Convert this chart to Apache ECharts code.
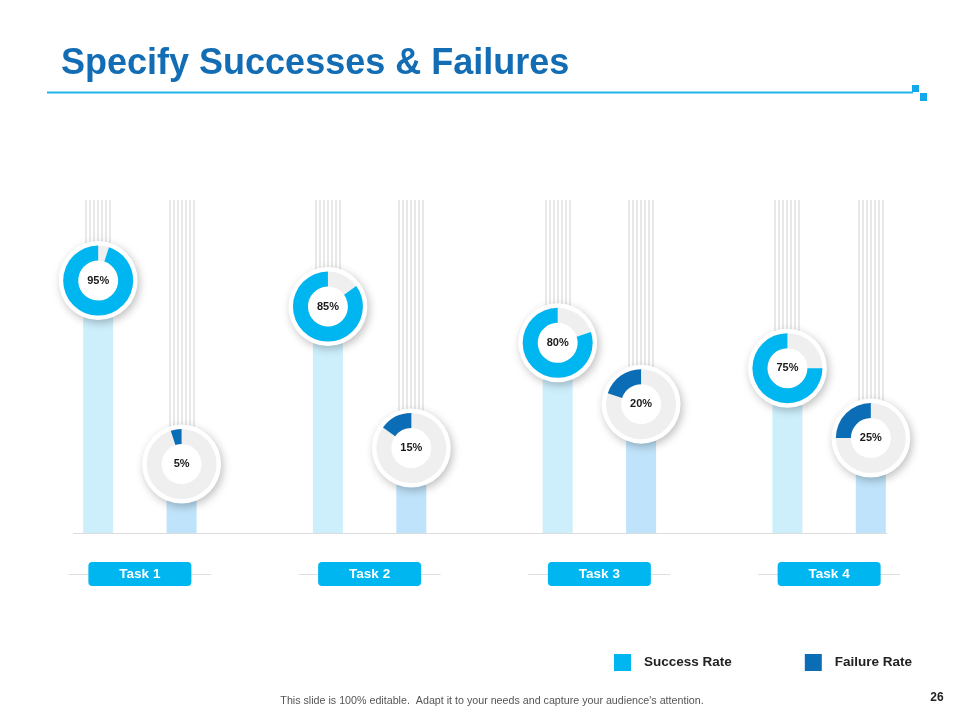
<!DOCTYPE html>
<html>
<head>
<meta charset="utf-8">
<script src="https://cdn.jsdelivr.net/npm/echarts@6/dist/echarts.min.js"></script>
<style>html,body{margin:0;padding:0;background:#fff;}#c{width:960px;height:720px;}</style>
</head>
<body>
<div id="c"></div>
<script>
// ---- data ----
var tasks = ['Task 1', 'Task 2', 'Task 3', 'Task 4'];
var successRate = [95, 85, 80, 75];
var failureRate = [5, 15, 20, 25];
// visual height of each column (where the donut sits), on a 0-100 scale
var successLevel = [75.8, 68.0, 57.1, 49.5];
var failureLevel = [20.7, 25.5, 38.7, 28.5];
var seriesNames = ['Success Rate', 'Failure Rate'];

var FONT = '"Liberation Sans", Arial, sans-serif';
var C_SUCCESS = '#00b6f1', C_FAIL = '#0b6db5';
var C_SBAR = '#cdeffc', C_FBAR = '#bfe3fa';
var BAR_W = 30, GAP = 1.78;
var OFF = (BAR_W + BAR_W * GAP) / 2;

var chart = echarts.init(document.getElementById('c'), null, {renderer: 'canvas'});

var stripeData = [], donutData = [];
tasks.forEach(function (t, i) {
  stripeData.push([i, -1]); stripeData.push([i, 1]);
  donutData.push([i, successLevel[i], successRate[i], -1]);
  donutData.push([i, failureLevel[i], failureRate[i], 1]);
});

function renderStripes(params, api) {
  var cat = api.value(0), sign = api.value(1);
  var b = api.coord([cat, 0]), t = api.coord([cat, 100]);
  var cx = b[0] + sign * OFF;
  var children = [];
  for (var k = -3; k <= 3; k++) {
    var x = Math.round(cx + k * 4);
    children.push({type: 'line', shape: {x1: x, y1: t[1], x2: x, y2: b[1]},
      style: {stroke: '#e8e8e8', lineWidth: 2}});
  }
  return {type: 'group', children: children};
}

function renderDonut(params, api) {
  var cat = api.value(0), lvl = api.value(1), pct = api.value(2), sign = api.value(3);
  var p = api.coord([cat, lvl]);
  var cx = p[0] + sign * OFF, cy = p[1];
  var col = sign < 0 ? C_SUCCESS : C_FAIL;
  var start = -Math.PI / 2, end = start - pct / 100 * Math.PI * 2;
  return {type: 'group', children: [
    {type: 'circle', shape: {cx: cx, cy: cy, r: 39.5},
      style: {fill: '#fff', shadowBlur: 9, shadowColor: 'rgba(0,0,0,0.25)', shadowOffsetX: 2, shadowOffsetY: 3}},
    {type: 'sector', shape: {cx: cx, cy: cy, r: 35, r0: 20, startAngle: 0, endAngle: Math.PI * 2},
      style: {fill: '#efefef'}},
    {type: 'sector', shape: {cx: cx, cy: cy, r: 35, r0: 20, startAngle: start, endAngle: end, clockwise: false},
      style: {fill: col}},
    {type: 'text', style: {x: cx, y: cy, text: pct + '%', align: 'center', verticalAlign: 'middle',
      fill: '#1a1a1a', font: 'bold 11px ' + FONT}}
  ]};
}

var option = {
  animation: false,
  backgroundColor: '#fff',
  title: {
    text: 'Specify Successes & Failures', left: 56, top: 41,
    textStyle: {fontFamily: FONT, fontSize: 36, fontWeight: 'bold', color: '#136db4'}
  },
  legend: {
    left: 609, top: 649, itemWidth: 17, itemHeight: 17, itemGap: 73, icon: 'rect',
    textStyle: {fontFamily: FONT, fontSize: 13.5, fontWeight: 'bold', color: '#222', padding: [2, 0, 0, 8]},
    data: [
      {name: seriesNames[0], itemStyle: {color: C_SUCCESS}},
      {name: seriesNames[1], itemStyle: {color: C_FAIL}}
    ]
  },
  grid: {left: 25, right: 16, top: 200, bottom: 187},
  xAxis: {
    type: 'category', data: tasks,
    axisLine: {show: false}, axisTick: {show: false}, splitLine: {show: false},
    axisLabel: {
      margin: 29, color: '#fff', fontFamily: FONT, fontSize: 13.5, fontWeight: 'bold',
      backgroundColor: C_SUCCESS, borderRadius: 4, width: 103, align: 'center',
      padding: [5, 0, 5, 0], lineHeight: 14
    }
  },
  yAxis: {type: 'value', min: 0, max: 100, show: false},
  series: [
    {type: 'custom', name: 'stripes', renderItem: renderStripes, data: stripeData, z: 1, silent: true,
      encode: {x: 0, y: 1}},
    {type: 'bar', name: seriesNames[0], data: successLevel, barWidth: BAR_W, barGap: (GAP * 100) + '%',
      itemStyle: {color: C_SBAR}, z: 2},
    {type: 'bar', name: seriesNames[1], data: failureLevel, barWidth: BAR_W,
      itemStyle: {color: C_FBAR}, z: 2},
    {type: 'custom', name: 'donuts', renderItem: renderDonut, data: donutData, z: 3, silent: true,
      encode: {x: 0, y: 1}}
  ]
};
chart.setOption(option);

// decorations
var g = [];
g.push({type: 'line', shape: {x1: 47, y1: 92.5, x2: 913, y2: 92.5}, style: {stroke: '#1fb3e8', lineWidth: 2}});
g.push({type: 'rect', shape: {x: 912, y: 85, width: 7, height: 7}, style: {fill: '#12a9ea'}});
g.push({type: 'rect', shape: {x: 920, y: 93, width: 7, height: 8}, style: {fill: '#12a9ea'}});
var base = chart.convertToPixel({yAxisIndex: 0}, 0);
g.push({type: 'line', shape: {x1: 73, y1: base + 0.5, x2: 887, y2: base + 0.5}, style: {stroke: '#dcdcdc', lineWidth: 1}, z: 0});
tasks.forEach(function (t, i) {
  var x = chart.convertToPixel({xAxisIndex: 0}, t);
  var y = base + 41.5;
  g.push({type: 'line', shape: {x1: x - 71, y1: y, x2: x - 51, y2: y}, style: {stroke: '#dedede', lineWidth: 1}});
  g.push({type: 'line', shape: {x1: x + 51, y1: y, x2: x + 71, y2: y}, style: {stroke: '#dedede', lineWidth: 1}});
});
g.push({type: 'text', style: {x: 492, y: 701, text: "This slide is 100% editable.  Adapt it to your needs and capture your audience's attention.",
  align: 'center', verticalAlign: 'middle', fill: '#555', font: '10.7px ' + FONT}});
g.push({type: 'text', style: {x: 937, y: 698, text: '26', align: 'center', verticalAlign: 'middle',
  fill: '#222', font: 'bold 12px ' + FONT}});
chart.setOption({graphic: g});
</script>
</body>
</html>
